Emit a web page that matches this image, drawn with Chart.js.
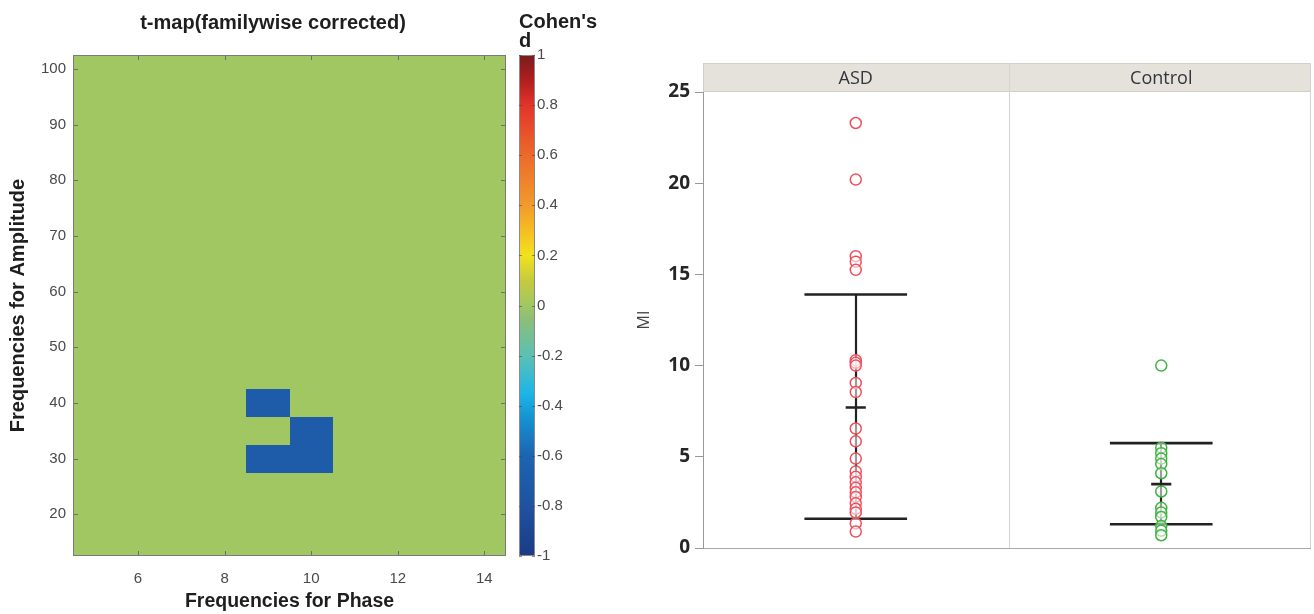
<!DOCTYPE html>
<html><head><meta charset="utf-8">
<script src="https://cdn.jsdelivr.net/npm/chart.js@4.4.1/dist/chart.umd.min.js"></script>
<style>
html,body{margin:0;padding:0;background:#fff;width:1314px;height:614px;overflow:hidden;}
#wrapL{position:absolute;left:0;top:0;width:546px;height:614px;}
#wrapC{position:absolute;left:500px;top:0;width:100px;height:614px;}
#wrapR{position:absolute;left:600px;top:0;width:714px;height:614px;}
</style></head><body>
<div id="wrapL"><canvas id="heat"></canvas></div>
<div id="wrapC"><canvas id="cbar"></canvas></div>
<div id="wrapR"><canvas id="mi"></canvas></div>
<script>
// ---------- Left panel: Cohen's d map ----------
const phaseFreqs = [5, 6, 7, 8, 9, 10, 11, 12, 13, 14];
const ampFreqs = [15, 20, 25, 30, 35, 40, 45, 50, 55, 60, 65, 70, 75, 80, 85, 90, 95, 100];
const sigPhase = [9, 9, 10, 10];
const sigAmp = [40, 30, 35, 30];
const sigD = [-0.7, -0.7, -0.7, -0.7];
const phaseTicks = [6, 8, 10, 12, 14];
const ampTicks = [20, 30, 40, 50, 60, 70, 80, 90, 100];
const cbTicks = [-1, -0.8, -0.6, -0.4, -0.2, 0, 0.2, 0.4, 0.6, 0.8, 1];
const cmapVals = [-1, -0.8, -0.6, -0.45, -0.35, -0.2, -0.05, 0, 0.1, 0.2, 0.3, 0.4, 0.6, 0.8, 0.9, 1];
const cmapCols = ['#1b3b85', '#1f52a0', '#1c64b0', '#1592d2', '#1cb6e6', '#5cc0b4', '#8cbf76', '#a1c762',
                  '#c6ca3e', '#f2e21c', '#f5bd22', '#f29a2c', '#ec6a2a', '#e2342a', '#b01e1e', '#781c1c'];

// ---------- Right panel: MI by group ----------
const groups = ['ASD', 'Control'];
const asdMI = [23.3, 20.2, 16.0, 15.7, 15.25, 10.3, 10.15, 10.0, 9.05, 8.55, 6.55, 5.85, 4.9, 4.2, 3.9, 3.6,
               3.3, 3.05, 2.8, 2.45, 2.15, 1.95, 1.35, 0.9];
const controlMI = [10.0, 5.5, 5.2, 4.9, 4.6, 4.1, 3.1, 2.2, 1.95, 1.7, 1.2, 0.95, 0.7];
const groupMean = [7.7, 3.5];
const groupUpper = [13.9, 5.75];
const groupLower = [1.6, 1.3];
const miTicks = [0, 5, 10, 15, 20, 25];

function hexToRgb(h){ return [parseInt(h.slice(1,3),16), parseInt(h.slice(3,5),16), parseInt(h.slice(5,7),16)]; }
function colorFor(v){
  for (let i = 0; i < cmapVals.length - 1; i++) {
    if (v >= cmapVals[i] && v <= cmapVals[i+1]) {
      const t = (v - cmapVals[i]) / (cmapVals[i+1] - cmapVals[i]);
      const a = hexToRgb(cmapCols[i]), b = hexToRgb(cmapCols[i+1]);
      return 'rgb(' + a.map((c, k) => Math.round(c + (b[k] - c) * t)).join(',') + ')';
    }
  }
  return cmapCols[cmapCols.length - 1];
}

const cells = [];
phaseFreqs.forEach(p => ampFreqs.forEach(a => {
  let v = 0;
  for (let i = 0; i < sigPhase.length; i++) if (sigPhase[i] === p && sigAmp[i] === a) v = sigD[i];
  cells.push({x: p, y: a, v: v});
}));

const LF = '"Liberation Sans", Arial, sans-serif';

const heatPlugin = {
  id: 'heatmap',
  beforeDatasetsDraw(chart) {
    const {ctx, chartArea: ca, scales: {x, y}} = chart;
    ctx.save();
    ctx.beginPath(); ctx.rect(ca.left, ca.top, ca.width, ca.height); ctx.clip();
    const order = cells.slice().sort((a, b) => (a.v !== 0) - (b.v !== 0));
    order.forEach(c => {
      const x0 = Math.round(x.getPixelForValue(c.x - 0.5)), x1 = Math.round(x.getPixelForValue(c.x + 0.5));
      const y0 = Math.round(y.getPixelForValue(c.y + 2.5)), y1 = Math.round(y.getPixelForValue(c.y - 2.5));
      ctx.fillStyle = colorFor(c.v);
      ctx.fillRect(x0, y0, x1 - x0, y1 - y0);
    });
    ctx.restore();
  },
  afterDatasetsDraw(chart) {
    const {ctx, chartArea: ca, scales: {x, y}} = chart;
    ctx.save();
    ctx.strokeStyle = '#6e6e6e'; ctx.lineWidth = 1;
    ctx.beginPath();
    phaseTicks.forEach(t => {
      const px = Math.round(x.getPixelForValue(t)) + 0.5;
      ctx.moveTo(px, ca.bottom); ctx.lineTo(px, ca.bottom - 5);
      ctx.moveTo(px, ca.top); ctx.lineTo(px, ca.top + 5);
    });
    ampTicks.forEach(t => {
      const py = Math.round(y.getPixelForValue(t)) + 0.5;
      ctx.moveTo(ca.left, py); ctx.lineTo(ca.left + 5, py);
      ctx.moveTo(ca.right, py); ctx.lineTo(ca.right - 5, py);
    });
    ctx.stroke();
    ctx.strokeStyle = '#7a7a7a';
    ctx.strokeRect(Math.round(ca.left) + 0.5, Math.round(ca.top) + 0.5, Math.round(ca.width) - 1, Math.round(ca.height) - 1);
    ctx.restore();
  }
};

new Chart(document.getElementById('heat'), {
  type: 'scatter',
  data: { datasets: [{ data: cells, pointRadius: 0, pointHoverRadius: 0 }] },
  options: {
    responsive: true, maintainAspectRatio: false, animation: false,
    layout: { autoPadding: false, padding: { left: 0, right: 0, top: 0, bottom: 0 } },
    plugins: {
      legend: { display: false }, tooltip: { enabled: false },
      title: { display: true, text: 't-map(familywise corrected)', color: '#1e1e1e',
               font: { family: LF, size: 20, weight: 'bold', lineHeight: 1.2 },
               padding: { top: 11, bottom: 20 } }
    },
    scales: {
      x: {
        type: 'linear', min: 4.5, max: 14.5,
        afterBuildTicks: s => { s.ticks = phaseTicks.map(v => ({ value: v })); },
        afterFit: s => { s.height = 58; },
        grid: { display: false, drawTicks: false }, border: { display: false },
        ticks: { color: '#4a4a4a', font: { family: LF, size: 15, lineHeight: 1.2 }, padding: 14, maxRotation: 0 },
        title: { display: true, text: 'Frequencies for Phase', color: '#1e1e1e',
                 font: { family: LF, size: 19.5, weight: 'bold', lineHeight: 1.2 }, padding: { top: 0, bottom: 1 } }
      },
      y: {
        type: 'linear', min: 12.5, max: 102.5,
        afterBuildTicks: s => { s.ticks = ampTicks.map(v => ({ value: v })); },
        afterFit: s => { s.width = 73; },
        grid: { display: false, drawTicks: false }, border: { display: false },
        ticks: { color: '#4a4a4a', font: { family: LF, size: 15 }, padding: 7 },
        title: { display: true, text: 'Frequencies for Amplitude', color: '#1e1e1e',
                 font: { family: LF, size: 20, weight: 'bold', lineHeight: 1.2 }, padding: { top: 6, bottom: 0 } }
      },
      gap: {
        type: 'linear', position: 'right', min: 0, max: 1,
        afterFit: s => { s.width = 40; },
        grid: { display: false, drawTicks: false }, border: { display: false },
        ticks: { display: false }
      }
    }
  },
  plugins: [heatPlugin]
});

// ---------- Colour bar ----------
const cbarPlugin = {
  id: 'cbar',
  beforeDatasetsDraw(chart) {
    const {ctx, chartArea: ca, scales: {y}} = chart;
    ctx.save();
    const bt = y.getPixelForValue(1), bb = y.getPixelForValue(-1);
    const g = ctx.createLinearGradient(0, bb, 0, bt);
    cmapVals.forEach((v, i) => g.addColorStop((v + 1) / 2, cmapCols[i]));
    ctx.fillStyle = g;
    ctx.fillRect(ca.left, bt, ca.width, bb - bt);
    ctx.strokeStyle = '#8a8a8a'; ctx.lineWidth = 1;
    ctx.strokeRect(Math.round(ca.left) + 0.5, Math.round(bt) + 0.5, Math.round(ca.width) - 1, Math.round(bb - bt) - 1);
    ctx.strokeStyle = 'rgba(70,70,70,0.6)';
    ctx.beginPath();
    cbTicks.forEach(t => {
      const py = Math.round(y.getPixelForValue(t)) + 0.5;
      ctx.moveTo(ca.left, py); ctx.lineTo(ca.left + 3, py);
      ctx.moveTo(ca.right, py); ctx.lineTo(ca.right - 3, py);
    });
    ctx.stroke();
    ctx.restore();
  }
};

new Chart(document.getElementById('cbar'), {
  type: 'scatter',
  data: { datasets: [] },
  options: {
    responsive: true, maintainAspectRatio: false, animation: false,
    layout: { autoPadding: false, padding: { left: 19, right: 0, top: 0, bottom: 58 } },
    plugins: {
      legend: { display: false }, tooltip: { enabled: false },
      title: { display: true, text: ["Cohen's", 'd'], align: 'start', color: '#1e1e1e',
               font: { family: LF, size: 20, weight: 'bold', lineHeight: '19px' },
               padding: { top: 13, bottom: 4 } }
    },
    scales: {
      x: { type: 'linear', display: false, min: 0, max: 1 },
      y: {
        type: 'linear', position: 'right', min: -1, max: 1,
        afterBuildTicks: s => { s.ticks = cbTicks.map(v => ({ value: v })); },
        afterFit: s => { s.width = 65; },
        grid: { display: false, drawTicks: false }, border: { display: false },
        ticks: { color: '#4a4a4a', font: { family: LF, size: 15 }, padding: 2,
                 callback: v => String(Math.round(v * 10) / 10) }
      }
    }
  },
  plugins: [cbarPlugin]
});

// ---------- Right chart ----------
const OF = '"Open Sans", "Noto Sans", sans-serif';
const capHalf = 0.168, meanHalf = 0.033;

const panelPlugin = {
  id: 'panels',
  beforeDraw(chart) {
    const {ctx, chartArea: ca, scales: {x}} = chart;
    const hTop = 63;
    ctx.save();
    ctx.fillStyle = '#e4e2da';
    ctx.fillRect(ca.left, hTop, ca.width - 3, ca.top - hTop);
    ctx.strokeStyle = '#d2cfc6'; ctx.lineWidth = 1;
    ctx.strokeRect(Math.round(ca.left) + 0.5, hTop + 0.5, Math.round(ca.width) - 4, Math.round(ca.top - hTop) - 1);
    ctx.strokeStyle = '#d4d4d4';
    ctx.beginPath();
    const xm = Math.round(x.getPixelForValue(1)) + 0.5;
    ctx.moveTo(xm, hTop); ctx.lineTo(xm, ca.bottom);
    const xr = Math.round(ca.right) - 3.5;
    ctx.moveTo(xr, hTop); ctx.lineTo(xr, ca.bottom);
    ctx.stroke();
    ctx.strokeStyle = '#a8a8a8';
    ctx.beginPath();
    const yb = Math.round(ca.bottom) + 0.5;
    ctx.moveTo(ca.left, yb); ctx.lineTo(ca.right - 3, yb);
    ctx.stroke();
    ctx.restore();
  },
  beforeDatasetsDraw(chart) {
    const {ctx, scales: {x, y}} = chart;
    ctx.save();
    ctx.strokeStyle = '#222'; ctx.lineCap = 'butt';
    groups.forEach((g, i) => {
      const cx = i + 0.5;
      const px = Math.round(x.getPixelForValue(cx));
      ctx.lineWidth = 2.2;
      ctx.beginPath();
      ctx.moveTo(px, y.getPixelForValue(groupUpper[i]));
      ctx.lineTo(px, y.getPixelForValue(groupLower[i]));
      ctx.stroke();
      ctx.lineWidth = 2.6;
      ctx.beginPath();
      [groupUpper[i], groupLower[i]].forEach(v => {
        const py = y.getPixelForValue(v);
        ctx.moveTo(x.getPixelForValue(cx - capHalf), py);
        ctx.lineTo(x.getPixelForValue(cx + capHalf), py);
      });
      const pm = y.getPixelForValue(groupMean[i]);
      ctx.moveTo(x.getPixelForValue(cx - meanHalf), pm);
      ctx.lineTo(x.getPixelForValue(cx + meanHalf), pm);
      ctx.stroke();
    });
    ctx.restore();
  }
};

new Chart(document.getElementById('mi'), {
  type: 'scatter',
  data: {
    datasets: [
      { label: groups[0], data: asdMI.map(v => ({ x: 0.5, y: v })), pointRadius: 5.5, pointHoverRadius: 5.5,
        borderWidth: 1.5, pointBorderColor: '#ef4f5c', pointBackgroundColor: 'rgba(255,255,255,0.55)' },
      { label: groups[1], data: controlMI.map(v => ({ x: 1.5, y: v })), pointRadius: 5.5, pointHoverRadius: 5.5,
        borderWidth: 1.5, pointBorderColor: '#3cb43f', pointBackgroundColor: 'rgba(255,255,255,0.55)' }
    ]
  },
  options: {
    responsive: true, maintainAspectRatio: false, animation: false,
    layout: { autoPadding: false, padding: { left: 0, right: 0, top: 63, bottom: 66 } },
    plugins: { legend: { display: false }, tooltip: { enabled: false } },
    scales: {
      x: {
        type: 'linear', position: 'top', min: 0, max: 2,
        afterBuildTicks: s => { s.ticks = groups.map((g, i) => ({ value: i + 0.5 })); },
        afterFit: s => { s.height = 29; },
        grid: { display: false, drawTicks: false }, border: { display: false },
        ticks: { color: '#34343f', font: { family: OF, size: 18, lineHeight: 1.2 }, padding: 2, maxRotation: 0,
                 callback: v => groups[Math.round(v - 0.5)] }
      },
      y: {
        type: 'linear', min: 0, max: 25,
        afterBuildTicks: s => { s.ticks = miTicks.map(v => ({ value: v })); },
        afterFit: s => { s.width = 103; },
        grid: { display: true, drawOnChartArea: false, tickLength: 8, color: '#9a9a9a' },
        border: { display: true, color: '#9a9a9a' },
        ticks: { color: '#262626', font: { family: OF, size: 19, weight: 'bold' }, padding: 5 },
        title: { display: true, text: 'MI', color: '#444',
                 font: { family: OF, size: 16, lineHeight: 1.2 }, padding: { top: 35, bottom: 0 } }
      }
    }
  },
  plugins: [panelPlugin]
});
</script>
</body></html>
